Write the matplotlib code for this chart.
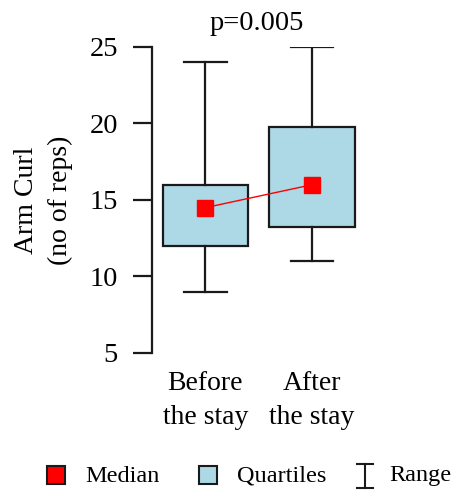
import matplotlib
matplotlib.use("Agg")
import matplotlib.pyplot as plt
from matplotlib.patches import Rectangle

plt.rcParams["font.family"] = ["Liberation Serif", "DejaVu Serif"]

# Arm curl summary statistics before/after the stay
categories = ["Before\nthe stay", "After\nthe stay"]
minimum = [9, 11]
q1 = [12, 13.25]
median = [14.5, 16]
q3 = [16, 19.75]
maximum = [24, 25]
p_value_label = "p=0.005"
yticks = [5, 10, 15, 20, 25]
legend_labels = ["Median", "Quartiles", "Range"]

EDGE = "#1a1a1a"
BOX = "#ADD8E6"

W, H = 454, 493
fig = plt.figure(figsize=(W / 100, H / 100), dpi=100)
ax = fig.add_axes([152 / W, (H - 353) / H, (365.5 - 152) / W, (353 - 47) / H])

positions = [1, 2]
stats = []
for i, lab in enumerate(categories):
    stats.append(dict(label=lab, whislo=minimum[i], q1=q1[i], med=median[i],
                      q3=q3[i], whishi=maximum[i], fliers=[]))

ax.bxp(stats, positions=positions, widths=0.8, capwidths=0.4,
       showfliers=False, patch_artist=True,
       boxprops=dict(facecolor=BOX, edgecolor=EDGE, linewidth=1.6),
       whiskerprops=dict(color=EDGE, linewidth=1.6),
       capprops=dict(color=EDGE, linewidth=1.6),
       medianprops=dict(linewidth=0, color="none"),
       manage_ticks=False)

ax.plot(positions, median, color="red", linewidth=1.0, marker="s",
        markersize=11.5, markerfacecolor="red", markeredgecolor="red",
        zorder=5)

ax.set_xlim(0.5, 2.5)
ax.set_ylim(5, 25)
ax.set_yticks(yticks)
ax.set_xticks(positions)
ax.set_xticklabels(categories, fontsize=20, linespacing=1.45)
ax.tick_params(axis="x", length=0, pad=13)
ax.tick_params(axis="y", length=13.5, width=1.6, color=EDGE,
               labelsize=20.5, pad=11)
for s in ["top", "right", "bottom"]:
    ax.spines[s].set_visible(False)
ax.spines["left"].set_linewidth(1.6)
ax.spines["left"].set_color(EDGE)
ax.patch.set_alpha(0)

ax.set_ylabel("Arm Curl\n(no of reps)", fontsize=20, linespacing=1.45,
              labelpad=12)

fig.text(257 / W, 1 - 23 / H, p_value_label, ha="center", va="center",
         fontsize=20.5)

# Legend drawn in figure pixel coordinates
lg = fig.add_axes([0, 0, 1, 1])
lg.set_xlim(0, W)
lg.set_ylim(H, 0)
lg.axis("off")
ly = 475
sq = 18
lg.add_patch(Rectangle((56 - sq / 2, ly - sq / 2), sq, sq, facecolor="red",
                       edgecolor=EDGE, linewidth=1.5))
lg.add_patch(Rectangle((208 - sq / 2, ly - sq / 2), sq, sq, facecolor=BOX,
                       edgecolor=EDGE, linewidth=1.5))
cx = 364.5
lg.plot([cx, cx], [464, 488], color=EDGE, linewidth=1.5)
lg.plot([cx - 8, cx + 8], [464, 464], color=EDGE, linewidth=1.5)
lg.plot([cx - 8, cx + 8], [488, 488], color=EDGE, linewidth=1.5)
for x0, lab in zip([85, 237, 389], legend_labels):
    lg.text(x0, ly + 1, lab, ha="left", va="center", fontsize=17.5)

fig.savefig("out.png", dpi=100)
